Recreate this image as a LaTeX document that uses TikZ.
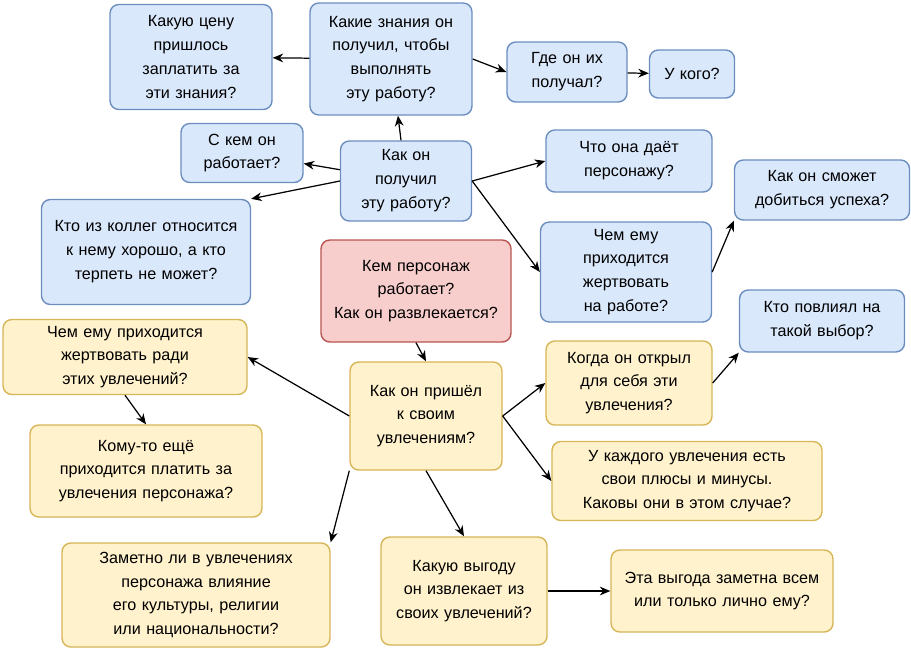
\documentclass[tikz,border=0pt]{standalone}
\usepackage{fontspec}
\setmainfont{Liberation Sans}
\usetikzlibrary{arrows.meta}
\definecolor{bf}{HTML}{DAE8FC}\definecolor{bd}{HTML}{6C8EBF}
\definecolor{yf}{HTML}{FFF2CC}\definecolor{yd}{HTML}{D6B656}
\definecolor{rf}{HTML}{F8CECC}\definecolor{rd}{HTML}{B85450}
\begin{document}
\begin{tikzpicture}[x=0.02cm,y=-0.02cm,
 box/.style={rounded corners=5pt,line width=0.8pt,align=center,inner sep=0pt,
   font=\fontsize{9.2}{13.6}\selectfont},
 bb/.style={box,fill=bf,draw=bd},
 yb/.style={box,fill=yf,draw=yd},
 rb/.style={box,fill=rf,draw=rd},
 ar/.style={-{Stealth[length=6pt,width=5pt]},line width=0.7pt}]
\useasboundingbox (0,0) rectangle (911,650);
\newcommand{\bx}[7]{\node[#1,minimum width=#4*0.02cm,minimum height=#5*0.02cm,text width=#6*0.02cm] (#7) at (#2,#3) {\strut\ignorespaces};}
\node[bb,minimum width=3.24cm,minimum height=2.1cm,text width=3cm] (n1) at (191,57) {Какую цену пришлось заплатить за эти знания?};
\node[bb,minimum width=3.24cm,minimum height=2.24cm,text width=3.1cm] (n2) at (391,59) {Какие знания он получил, чтобы выполнять эту работу?};
\node[bb,minimum width=2.4cm,minimum height=1.2cm,text width=2.2cm] (n3) at (567,72) {Где он их получал?};
\node[bb,minimum width=1.7cm,minimum height=0.96cm,text width=1.6cm] (n4) at (692,74) {У кого?};
\node[bb,minimum width=2.44cm,minimum height=1.18cm,text width=2.2cm] (n5) at (242,153) {С кем он работает?};
\node[bb,minimum width=2.62cm,minimum height=1.6cm,text width=2.3cm] (n6) at (406,181) {Как он получил эту работу?};
\node[bb,minimum width=3.32cm,minimum height=1.24cm,text width=3cm] (n7) at (629,161) {Что она даёт персонажу?};
\node[bb,minimum width=3.5cm,minimum height=1.2cm,text width=3.4cm] (n8) at (822,190) {Как он сможет добиться успеха?};
\node[bb,minimum width=4.18cm,minimum height=2.1cm,text width=3.9cm] (n9) at (146,252) {Кто из коллег относится к нему хорошо, а кто терпеть не может?};
\node[rb,minimum width=3.8cm,minimum height=2.04cm,text width=3.4cm] (n10) at (416,291) {Кем персонаж работает?\\Как он развлекается?};
\node[bb,minimum width=3.42cm,minimum height=2cm,text width=3cm] (n11) at (626,272) {Чем ему приходится жертвовать на работе?};
\node[bb,minimum width=3.3cm,minimum height=1.24cm,text width=3.1cm] (n12) at (822,321) {Кто повлиял на такой выбор?};
\node[yb,minimum width=4.88cm,minimum height=1.5cm,text width=4.6cm] (n13) at (125,357) {Чем ему приходится жертвовать ради этих увлечений?};
\node[yb,minimum width=3.04cm,minimum height=2.16cm,text width=2.7cm] (n14) at (426,416) {Как он пришёл к своим увлечениям?};
\node[yb,minimum width=3.32cm,minimum height=1.68cm,text width=3cm] (n15) at (629,383) {Когда он открыл для себя эти увлечения?};
\node[yb,minimum width=4.64cm,minimum height=1.84cm,text width=4.3cm] (n16) at (146,471) {Кому-то ещё приходится платить за увлечения персонажа?};
\node[yb,minimum width=5.4cm,minimum height=1.58cm,text width=5.1cm] (n17) at (687,481) {У каждого увлечения есть свои плюсы и минусы. Каковы они в этом случае?};
\node[yb,minimum width=5.36cm,minimum height=2.08cm,text width=5cm] (n18) at (196,595) {Заметно ли в увлечениях персонажа влияние его культуры, религии или национальности?};
\node[yb,minimum width=3.32cm,minimum height=2.16cm,text width=3cm] (n19) at (464,591) {Какую выгоду он извлекает из своих увлечений?};
\node[yb,minimum width=4.44cm,minimum height=1.64cm,text width=4.1cm] (n20) at (722,591) {Эта выгода заметна всем или только лично ему?};
\draw[ar] (n2) -- (n1);
\draw[ar] (n2.east) -- (n3.west);
\draw[ar] (n3) -- (n4);
\draw[ar] (n6) -- (n2);
\draw[ar] (n6) -- (n5);
\draw[ar] (n6.west) -- (n9.north east);
\draw[ar] (n6.east) -- (n7.west);
\draw[ar] (n6.east) -- (n11.west);
\draw[ar] (n11.east) -- (n8.south west);
\draw[ar] (n10.south) -- (n14.north);
\draw[ar] (n14.west) -- (n13.east);
\draw[ar] (n14.east) -- (n15.west);
\draw[ar] (n15.east) -- (n12.south west);
\draw[ar] (n14.east) -- (n17.west);
\draw[ar] (n14.south west) -- (n18.north east);
\draw[ar] (n14.south) -- (n19.north);
\draw[ar] (n13.south) -- (n16.north);
\draw[ar] (n19.east) -- (n20.west);
\end{tikzpicture}
\end{document}
